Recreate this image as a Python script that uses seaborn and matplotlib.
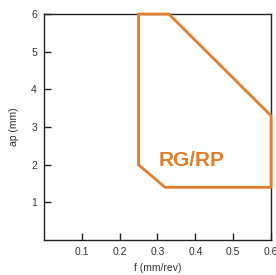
import matplotlib
matplotlib.use('Agg')
import matplotlib.pyplot as plt
import pandas as pd
import seaborn as sns

# Contour of the RG/RP working area (feed f vs depth of cut ap)
f_vals = [0.25, 0.25, 0.33, 0.60, 0.60, 0.32, 0.25]
ap_vals = [2.0, 6.0, 6.0, 3.3, 1.4, 1.4, 2.0]
area_label = 'RG/RP'
x_ticks = [0.1, 0.2, 0.3, 0.4, 0.5, 0.6]
y_ticks = [1, 2, 3, 4, 5, 6]

orange = '#E27D2B'
sns.set_style('white', {'xtick.bottom': True, 'ytick.left': True})
plt.rcParams['font.family'] = ['Liberation Sans', 'DejaVu Sans']

dados = pd.DataFrame({'f': f_vals, 'ap': ap_vals})

fig = plt.figure(figsize=(2.76, 2.75), dpi=100)
ax = fig.add_axes([0.159, 0.127, 0.823, 0.822])

sns.lineplot(data=dados, x='f', y='ap', sort=False, estimator=None,
             color=orange, linewidth=2.0, ax=ax, clip_on=False, zorder=3)
ax.text(0.39, 2.12, area_label, color=orange, fontsize=15, fontweight='bold',
        ha='center', va='center')

ax.set_xlim(0, 0.6)
ax.set_ylim(0, 6)
ax.set_xticks(x_ticks)
ax.set_yticks(y_ticks)
ax.set_xticklabels([str(t) for t in x_ticks])
ax.set_yticklabels([str(t) for t in y_ticks])
ax.tick_params(direction='in', length=5, width=1, colors='#222222',
               labelsize=7.5, labelcolor='#333333', pad=5)
for s in ax.spines.values():
    s.set_color('#222222')
    s.set_linewidth(1)

ax.set_xlabel('f (mm/rev)', fontsize=7.5, color='#333333', labelpad=4)
ax.set_ylabel('ap (mm)', fontsize=7.5, color='#333333', labelpad=9)

fig.savefig('out.png', dpi=100)
